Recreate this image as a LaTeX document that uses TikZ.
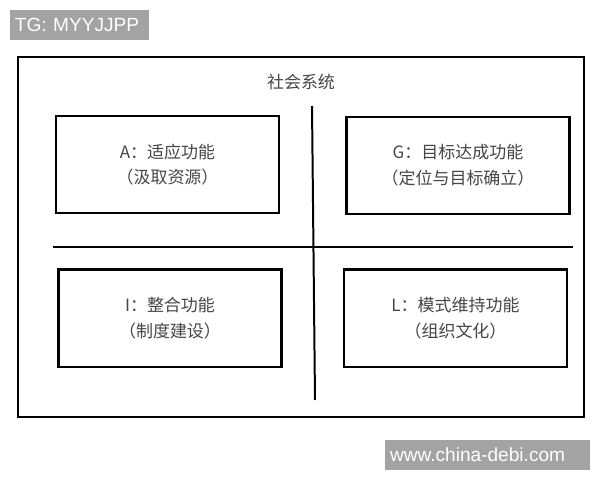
\documentclass[tikz,border=0pt]{standalone}
\usepackage{fontspec}
\setmainfont{Liberation Sans}
\newfontfamily\cjk{Noto Sans CJK SC}
\usetikzlibrary{positioning}
\definecolor{wmgray}{RGB}{163,163,163}
\definecolor{txtgray}{RGB}{70,70,70}
\tikzstyle{fn} = [rectangle, draw, line width=2pt, text=txtgray,
    minimum width=6.69cm, minimum height=2.92cm, align=center,
    font=\cjk\fontsize{14.5}{22}\selectfont]
\tikzstyle{wm} = [rectangle, fill=wmgray, text=white, inner xsep=0.15cm,
    inner ysep=0pt, minimum height=0.9cm, align=left,
    font=\fontsize{16.3}{18}\selectfont]
\tikzstyle{split} = [line width=1.7pt]

\begin{document}
\begin{tikzpicture}[x=0.03cm,y=-0.03cm]
  \useasboundingbox[fill=white] (0,0) rectangle (600,480);

  \node[wm, text width=3.87cm] (tg) at (79.5,25) {TG: MYYJJPP};
  \node[wm, text width=5.85cm] (site) at (487.5,455) {www.china-debi.com};

  \node[rectangle, draw, line width=1.7pt, minimum width=16.98cm,
        minimum height=10.8cm] (frame) at (301,237) {};
  \node[text=txtgray, font=\cjk\fontsize{14.5}{16}\selectfont] (title) at (301,82) {社会系统};

  \node[fn] (A) at (167.5,164.5) {A：适应功能\\（汲取资源）};
  \node[fn] (G) at (458,165.5)   {G：目标达成功能\\（定位与目标确立）};
  \node[fn] (I) at (170,318)     {I：整合功能\\（制度建设）};
  \node[fn] (L) at (455.5,318)   {L：模式维持功能\\（组织文化）};

  \coordinate (top) at (312,106);
  \coordinate (bottom) at (315,400);
  \coordinate (left) at (53,247);
  \coordinate (right) at (573,247);
  \draw[split] (top) -- (bottom);
  \draw[split] (left) -- (right);
\end{tikzpicture}
\end{document}
